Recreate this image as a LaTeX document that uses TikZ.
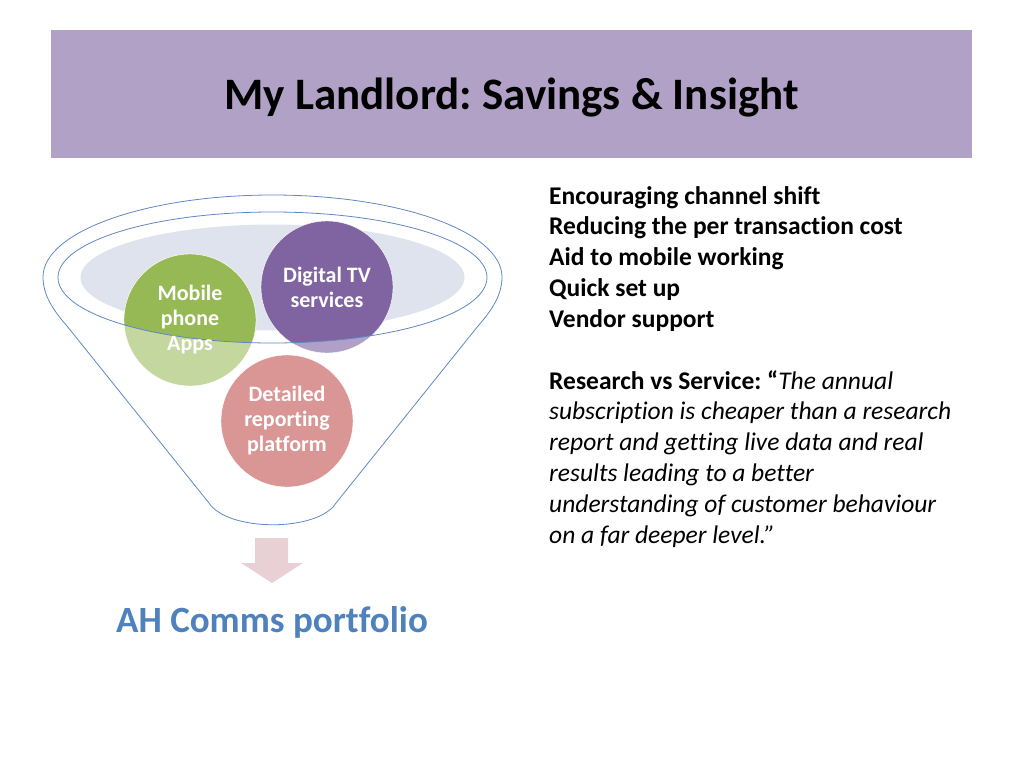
\documentclass[tikz,border=0pt]{standalone}
\usepackage{fontspec}
\setmainfont{Carlito}[Ligatures=CommonOff]
\usetikzlibrary{calc,positioning}
\frenchspacing

\definecolor{titlebar}{RGB}{178,161,199}
\definecolor{rimfill}{RGB}{222,227,238}
\definecolor{funnelline}{RGB}{95,135,195}
\definecolor{greendark}{RGB}{150,185,85}
\definecolor{greenlight}{RGB}{196,215,158}
\definecolor{purpledark}{RGB}{128,100,162}
\definecolor{purplelight}{RGB}{176,160,200}
\definecolor{redsoft}{RGB}{217,150,148}
\definecolor{arrowpink}{RGB}{232,208,212}
\definecolor{portblue}{RGB}{79,129,189}

\tikzset{
  funnel/.style={draw=funnelline, line width=0.8pt},
  bubble/.style={align=center, text=white, font=\fontsize{22}{25}\selectfont\bfseries, inner sep=0pt},
  listtext/.style={align=left, inner sep=0pt, font=\fontsize{25.5}{30.8}\selectfont}
}

\begin{document}
\begin{tikzpicture}[x=1pt, y=-1pt, line join=round, line cap=round]
    \useasboundingbox (0,0) rectangle (1024,768);

    % Define rim centre and circle centres
    \coordinate (R) at (272.5,277.5);
    \coordinate (G) at (190,320);
    \coordinate (P) at (327,287);
    \coordinate (D) at (287,421);

    % 1. Title bar
    \fill[titlebar] (51,30) rectangle (972,158);
    \node[anchor=base, font=\fontsize{45}{52}\selectfont\bfseries] (title) at (511.5,109) {My Landlord: Savings \& Insight};

    % 2. Inside of the funnel rim
    \fill[rimfill] (R) ellipse [x radius=192, y radius=53];

    % 3. Circles, pale where they hang below the rim
    \filldraw[fill=greenlight, draw=white] (G) circle [radius=66];
    \filldraw[fill=purplelight, draw=white] (P) circle [radius=66];
    \filldraw[fill=redsoft, draw=white] (D) circle [radius=66];
    \begin{scope}
        \clip (R) ellipse [x radius=214.5, y radius=65.5];
        \filldraw[fill=greendark, draw=white] (G) circle [radius=66];
        \filldraw[fill=purpledark, draw=white] (P) circle [radius=66];
    \end{scope}

    % 4. Funnel outline
    \draw[funnel] (R) ellipse [x radius=214.5, y radius=65.5];
    \draw[funnel] (43,277) arc [start angle=180, end angle=360, x radius=229.5, y radius=82]
        .. controls (502,295) and (492,310) .. (478,326) -- (336,503)
        .. controls (318,532) and (228,532) .. (209,503) -- (67,326)
        .. controls (53,310) and (43,295) .. (43,277);

    % 5. Circle labels
    \node[bubble] (mobile) at (G) {Mobile\\phone\\Apps};
    \node[bubble] (digital) at (P) {Digital TV\\services};
    \node[bubble] (detail) at (D) {Detailed\\reporting\\platform};

    % 6. Down arrow and portfolio
    \fill[arrowpink] (255,538) -- (288,538) -- (288,563) -- (303,563) -- (272,583)
        -- (241,563) -- (255,563) -- cycle;
    \node[anchor=base, text=portblue, font=\fontsize{37}{44}\selectfont\bfseries] (ah) at (272,632) {AH Comms portfolio};

    % 7. Right hand text
    \node[listtext, anchor=north west, font=\fontsize{25.5}{30.8}\selectfont\bfseries] (points) at (549,186)
        {Encouraging channel shift\\Reducing the per transaction cost\\Aid to mobile working\\Quick set up\\Vendor support};
    \node[listtext, anchor=north west] (quote) at (549,370)
        {\textbf{Research vs Service: “}\textit{The annual}\\
         \textit{subscription is cheaper than a research}\\
         \textit{report and getting live data and real}\\
         \textit{results leading to a better}\\
         \textit{understanding of customer behaviour}\\
         \textit{on a far deeper level.”}};

\end{tikzpicture}
\end{document}
